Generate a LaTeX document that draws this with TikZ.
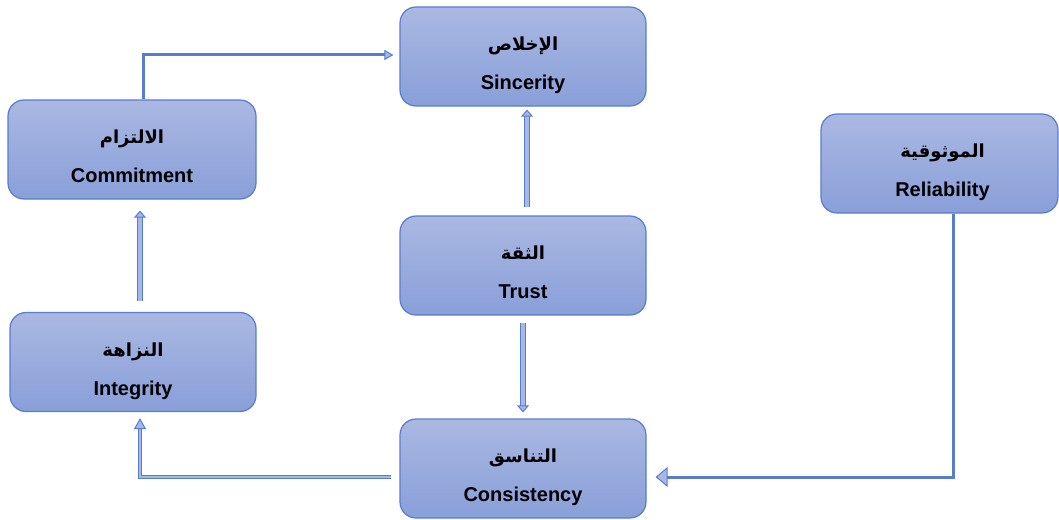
\documentclass[tikz,border=0pt]{standalone}
\usepackage{fontspec}
\setmainfont{Liberation Sans}
\newfontfamily\arabicfont[Script=Arabic]{DejaVu Sans}
\TeXXeTstate=1
\usetikzlibrary{arrows.meta,calc}
\definecolor{edge}{RGB}{88,125,206}
\definecolor{boxtop}{RGB}{170,184,226}
\definecolor{boxbot}{RGB}{137,159,217}
\definecolor{headfill}{RGB}{166,185,230}
\tikzset{
  box/.style={draw=edge, line width=1.2pt, rounded corners=16pt,
    top color=boxtop, bottom color=boxbot,
    minimum width=246pt, minimum height=99pt, inner sep=0pt},
  artext/.style={font=\arabicfont\bfseries\fontsize{18}{21}\selectfont, anchor=base},
  entext/.style={font=\bfseries\fontsize{20}{24}\selectfont, anchor=base},
  thinarrow/.style={draw=edge, line width=3pt,
    -{Triangle[length=9pt,width=10pt,fill=headfill,color=edge,line width=1pt]}},
  blockarrow/.style={draw=edge, line width=1.2pt, double=headfill, double distance=3.5pt,
    -{Triangle[length=7pt,width=12pt,fill=headfill,color=edge,line width=1pt]}},
  openarrow/.style={draw=edge, line width=3pt,
    -{Triangle[length=12pt,width=20pt,fill=headfill,color=edge,line width=1pt]}},
  dblarrow/.style={draw=edge, line width=1.2pt, double=headfill, double distance=2pt,
    -{Triangle[length=11pt,width=12pt,fill=headfill,color=edge,line width=1pt]}},
}
\begin{document}
\begin{tikzpicture}[x=1pt,y=-1pt]
  \useasboundingbox (0,0) rectangle (1059,519);

  % boxes
  \node[box] (sin) at (523,56.5) {};
  \node[box, minimum width=248pt] (com) at (132,149.5) {};
  \node[box] (tru) at (523,265.5) {};
  \node[box, minimum width=237pt] (rel) at (939.5,163.5) {};
  \node[box] (int) at (133,362) {};
  \node[box] (con) at (523,468.5) {};

  % labels
  \node[artext] (sinA) at ($(sin.center)+(0,-6)$) {\beginR الإخلاص\endR};
  \node[entext] (sinE) at ($(sin.center)+(0,33)$) {Sincerity};
  \node[artext] (comA) at ($(com.center)+(0,-6)$) {\beginR الالتزام\endR};
  \node[entext] (comE) at ($(com.center)+(0,33)$) {Commitment};
  \node[artext] (truA) at ($(tru.center)+(0,-6)$) {\beginR الثقة\endR};
  \node[entext] (truE) at ($(tru.center)+(0,33)$) {Trust};
  \node[artext] (relA) at ($(rel.center)+(3,-6)$) {\beginR الموثوقية\endR};
  \node[entext] (relE) at ($(rel.center)+(3,33)$) {Reliability};
  \node[artext] (intA) at ($(int.center)+(0,-6)$) {\beginR النزاهة\endR};
  \node[entext] (intE) at ($(int.center)+(0,33)$) {Integrity};
  \node[artext] (conA) at ($(con.center)+(0,-6)$) {\beginR التناسق\endR};
  \node[entext] (conE) at ($(con.center)+(0,33)$) {Consistency};

  % connectors
  \draw[thinarrow] ($(com.north)+(11,0)$) |- ($(sin.west)+(-6,-1.5)$);
  \draw[blockarrow] ($(tru.north)+(4,-8)$) -- ($(sin.south)+(4,3)$);
  \draw[blockarrow] ($(tru.south)+(0,7)$) -- ($(con.north)+(0,-6)$);
  \draw[blockarrow] ($(int.north)+(7,-11)$) -- ($(com.south)+(8,11)$);
  \draw[openarrow] ($(rel.south)+(13.5,0)$) |- ($(con.east)+(9,8.5)$);
  \draw[dblarrow] ($(con.west)+(-8,8.5)$) -| ($(int.south)+(7,6)$);
\end{tikzpicture}
\end{document}
